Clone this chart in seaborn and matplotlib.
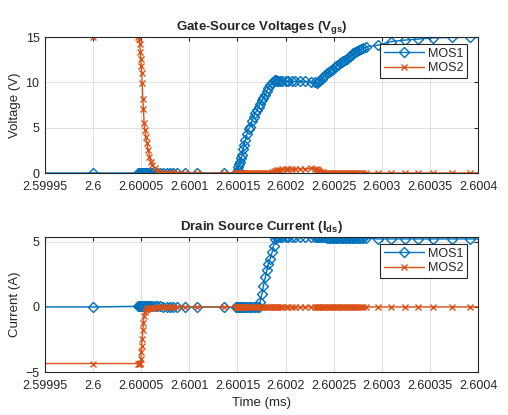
import matplotlib
matplotlib.use("Agg")
import matplotlib.pyplot as plt
import matplotlib.ticker as mticker
import numpy as np
import seaborn as sns

# time stamps, ns after 2.6 ms (shared by all four traces)
T_NS = [-60, 0, 47, 48, 48.5, 49, 49.5, 50, 50.5, 51, 51.7, 52.3, 53, 54, 55, 55.8,
        57.5, 58.6, 60, 61.7, 63.8, 66.2, 69.7, 73, 77, 80, 83, 87, 96, 108, 136, 148,
        149, 150, 150.5, 151, 152, 153, 154, 155, 156, 157, 158, 160, 161.5, 163, 165,
        167, 168.5, 170, 172, 173.5, 175.5, 177, 179, 180.5, 182, 184, 186, 187.5, 189,
        190, 191, 192, 194, 196.5, 200, 203, 207, 210, 215, 220.5, 226, 231, 233, 234,
        235, 236, 237.5, 239, 241, 243, 245, 246.5, 248, 249.6, 251, 252.7, 255, 257,
        258.5, 260, 262, 264, 265.5, 267, 269, 270.5, 272, 274.5, 276, 278, 281, 284,
        296, 310, 324, 337.5, 353, 373, 392, 410]

VGS_MOS1 = [0] * 33 + [
    0.05, 0.3, 0.66, 1.0, 1.25, 1.6, 2.0, 2.6, 3.1, 3.6, 4.3, 4.8, 5.1, 5.7,
    6.2, 6.6, 6.9, 7.3, 7.6, 8.0, 8.3, 8.6, 9.0, 9.4, 9.7, 9.9, 10.1, 10.25,
    10.25, 10.2, 10.2, 10.15, 10.15, 10.1, 10.1, 10.1, 10.1, 10.1, 10.1, 10.05,
    10.0, 9.95, 10.0, 10.1, 10.25, 10.4, 10.6, 10.8, 11.0, 11.15, 11.3, 11.4,
    11.5, 11.65, 11.8, 11.95, 12.1, 12.2, 12.35, 12.5, 12.6, 12.75, 12.9, 13.05,
    13.2, 13.3, 13.5, 13.55, 13.65, 13.8, 13.9, 14.1, 14.5, 14.66, 14.77, 14.9,
    14.95, 14.97, 15.0]

VGS_MOS2 = [15, 15, 15, 14.8, 14.2, 13.4, 12.6, 11.8, 11.0, 9.9, 8.2, 7.1, 5.5, 4.7,
            4.0, 3.3, 2.5, 1.8, 1.25, 0.88, 0.52, 0.25, 0.05] + [0.02] * 2 + [0] * 32 + [
            0.05, 0.1, 0.15, 0.2, 0.25, 0.28, 0.3, 0.35, 0.4, 0.45, 0.45, 0.45, 0.45,
            0.45, 0.45, 0.5, 0.45, 0.4, 0.3, 0.22, 0.15, 0.1, 0.06, 0.03] + [0] * 31

IDS_MOS1 = [0, 0] + [0.05] * 21 + [0] * 28 + [
    0.4, 1.0, 1.6, 2.3, 2.8, 3.3, 3.7, 4.2, 4.7, 5.2, 5.35, 5.4, 5.4] + [5.38] * 10 + \
    [5.35] * 7 + [5.28] * 23 + [5.22] * 8

IDS_MOS2 = [-4.35, -4.35, -4.35, -4.35, -4.35, -4.3, -4.0, -3.5, -3.0, -2.5, -1.8,
            -1.2, -0.7, -0.4, -0.25, -0.18, -0.12, -0.1, -0.08, -0.06, -0.05, -0.04,
            -0.03, -0.02] + [0] * 88

XTICKS = [2.59995, 2.6, 2.60005, 2.6001, 2.60015, 2.6002, 2.60025, 2.6003, 2.60035, 2.6004]

C1 = "#0072BD"
C2 = "#D95319"

sns.set_style("white")
plt.rcParams["font.family"] = ["Liberation Sans", "DejaVu Sans"]
plt.rcParams["mathtext.fontset"] = "custom"
plt.rcParams["mathtext.bf"] = "Liberation Sans:bold"
plt.rcParams["mathtext.rm"] = "Liberation Sans"

t = 2.6 + np.array(T_NS) * 1e-6

fig = plt.figure(figsize=(5.08, 4.15), dpi=100)
ax1 = fig.add_axes([45 / 508, 1 - 173 / 415, 433 / 508, 136 / 415])
ax2 = fig.add_axes([45 / 508, 1 - 372 / 415, 433 / 508, 135 / 415])

panels = [
    (ax1, VGS_MOS1, VGS_MOS2, r"Gate-Source Voltages ($\mathbf{V_{gs}}$)", "Voltage (V)", (0, 15), [0, 5, 10, 15]),
    (ax2, IDS_MOS1, IDS_MOS2, r"Drain Source Current ($\mathbf{I_{ds}}$)", "Current (A)", (-5, 5.37), [-5, 0, 5]),
]

for ax, y1, y2, title, ylab, ylim, yticks in panels:
    sns.lineplot(x=t, y=y1, ax=ax, color=C1, marker="D", ms=5.2, mec=C1, mfc="none",
                 mew=1.0, lw=1.0, estimator=None, sort=False, label="MOS1")
    sns.lineplot(x=t, y=y2, ax=ax, color=C2, marker="x", ms=4.5, mec=C2,
                 mew=1.0, lw=1.0, estimator=None, sort=False, label="MOS2")
    ax.set_xlim(2.59995, 2.6004)
    ax.set_ylim(*ylim)
    ax.set_xticks(XTICKS)
    ax.set_yticks(yticks)
    ax.xaxis.set_major_formatter(mticker.FormatStrFormatter("%g"))
    ax.grid(True, color="#dcdcdc", lw=0.6)
    ax.set_axisbelow(True)
    ax.tick_params(direction="in", top=True, right=True, length=3, labelsize=9,
                   colors="#262626")
    ax.tick_params(axis="x", pad=6)
    ax.tick_params(axis="y", pad=4)
    for s in ax.spines.values():
        s.set_color("#262626")
        s.set_linewidth(0.8)
    ax.set_title(title, fontsize=9.5, fontweight="bold", pad=5)
    ax.set_ylabel(ylab, fontsize=9.5, color="#262626", labelpad=3)
    leg = ax.legend(loc="upper right", bbox_to_anchor=(0.9746, 0.948), borderaxespad=0,
                    fontsize=9, handlelength=3.2, handletextpad=0.3, borderpad=0.3,
                    labelspacing=0.2, fancybox=False, framealpha=1, edgecolor="#262626")
    leg.get_frame().set_linewidth(0.8)

ax1.set_xlabel("")
ax2.set_xlabel("Time (ms)", fontsize=9.5, color="#262626", labelpad=3)

fig.savefig("out.png", dpi=100, facecolor="white")
